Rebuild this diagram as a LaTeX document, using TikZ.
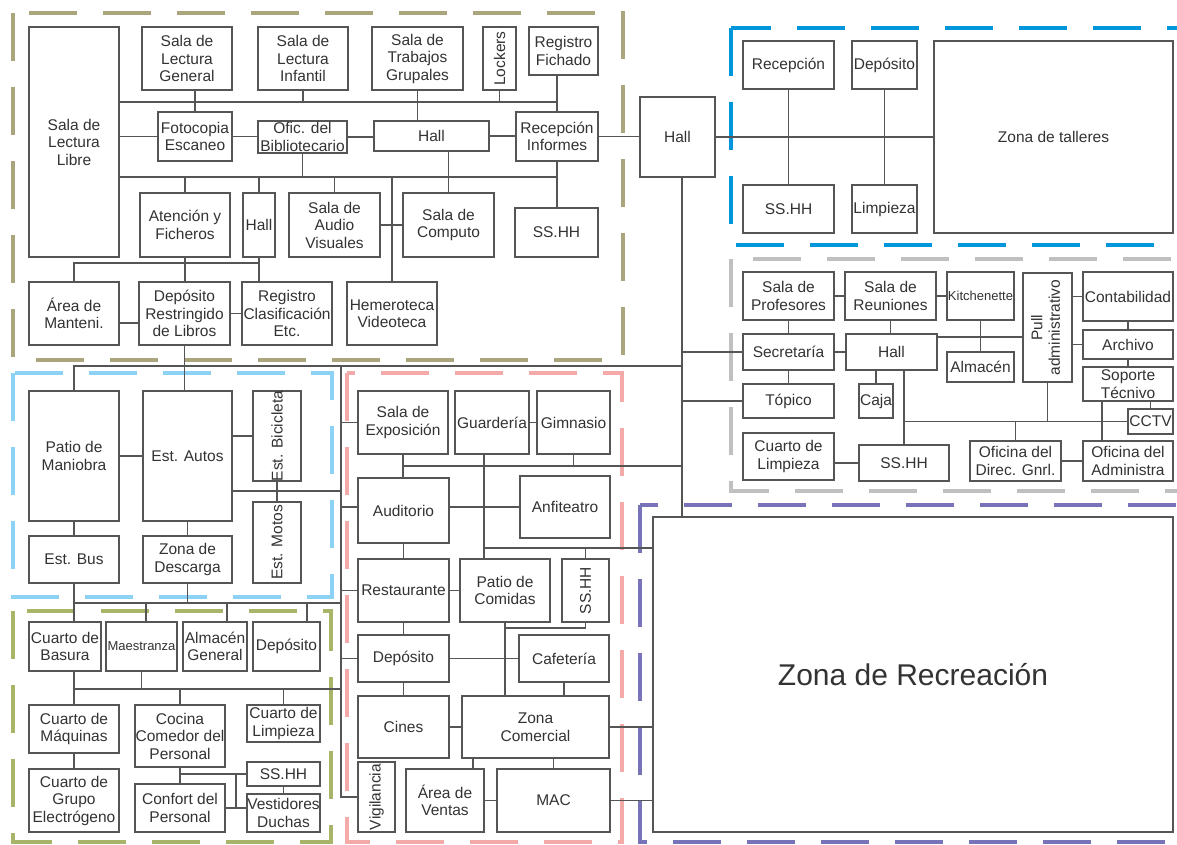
\documentclass[tikz,border=0pt]{standalone}
\usepackage{fontspec}
\setmainfont{Liberation Sans}
\usepackage{graphicx}
\usetikzlibrary{backgrounds}
\definecolor{linea}{HTML}{555555}
\definecolor{texto}{HTML}{333333}
\definecolor{z_bib}{HTML}{AAA57D}
\definecolor{z_tal}{HTML}{0096DC}
\definecolor{z_adm}{HTML}{C0C0C0}
\definecolor{z_rec}{HTML}{7873B9}
\definecolor{z_cen}{HTML}{F5AAAA}
\definecolor{z_par}{HTML}{8CD2F5}
\definecolor{z_ser}{HTML}{A8B46A}
\tikzset{
  sala/.style = {draw=linea, fill=white, line width=1.2pt, align=center,
    inner sep=0pt, text=texto, font=\fontsize{15.5}{17.5}\selectfont},% ambiente
  sala_c/.style = {sala, font=\fontsize{13}{15}\selectfont},% ambiente, texto chico
  medida/.style 2 args = {minimum width=#1pt, minimum height=#2pt},
  zona/.style = {line width=4.5pt, dash pattern=on 48pt off 26pt}% borde de zona
}
\begin{document}
\begin{tikzpicture}[x=1pt, y=-1pt, enlace/.style={draw=linea, line width=1.2pt}]
\useasboundingbox (0,0) rectangle (1177,844);
% biblioteca
\node[sala, medida={90}{230}] (libre) at (74,142) {Sala de\\Lectura\\Libre};
\node[sala, medida={90}{63}] (general) at (187,58.5) {Sala de\\Lectura\\General};
\node[sala, medida={90}{63}] (infantil) at (303,58.5) {Sala de\\Lectura\\Infantil};
\node[sala, medida={91}{63}] (grupales) at (417.5,58.5) {Sala de\\Trabajos\\Grupales};
\node[sala, medida={33}{63}] (lockers) at (499.5,58.5) {\rotatebox{90}{Lockers}};
\node[sala, medida={69}{48}] (fichado) at (563.5,51) {Registro\\Fichado};
\node[sala, medida={74}{49}] (fotocopia) at (195,136.5) {Fotocopia\\Escaneo};
\node[sala, medida={89}{32}] (ofic) at (302.5,137) {Ofic. del\\Bibliotecario};
\node[sala, medida={115}{30}] (hallbib) at (431.5,136) {Hall};
\node[sala, medida={82}{49}] (recepbib) at (557,136.5) {Recepción\\Informes};
\node[sala, medida={90}{64}] (atencion) at (185,225) {Atención y\\Ficheros};
\node[sala, medida={32}{64}] (hallchico) at (259,225) {Hall};
\node[sala, medida={91}{64}] (audio) at (334.5,225) {Sala de\\Audio\\Visuales};
\node[sala, medida={91}{64}] (computo) at (448.5,225) {Sala de\\Computo};
\node[sala, medida={83}{49}] (sshhbib) at (556.5,232.5) {SS.HH};
\node[sala, medida={90}{63}] (manteni) at (74,313.5) {Área de\\Manteni.};
\node[sala, medida={91}{63}] (restringido) at (184.5,313.5) {Depósito\\Restringido\\de Libros};
\node[sala, medida={90}{63}] (clasif) at (287,313.5) {Registro\\Clasificación\\Etc.};
\node[sala, medida={90}{63}] (hemeroteca) at (392,313.5) {Hemeroteca\\Videoteca};
\node[sala, medida={75}{80}] (hall) at (677.5,137) {Hall};
% talleres
\node[sala, medida={91}{48}] (recepcion) at (788.5,65) {Recepción};
\node[sala, medida={91}{48}] (sshht) at (788.5,209) {SS.HH};
\node[sala, medida={65}{48}] (depositot) at (884.5,65) {Depósito};
\node[sala, medida={65}{48}] (limpiezat) at (884.5,209) {Limpieza};
\node[sala, medida={239}{192}] (talleres) at (1053.5,137) {Zona de talleres};
% administracion
\node[sala, medida={91}{48}] (profesores) at (788.5,296) {Sala de\\Profesores};
\node[sala, medida={91}{48}] (reuniones) at (890.5,296) {Sala de\\Reuniones};
\node[sala_c, medida={67}{48}] (kitchen) at (980.5,296) {Kitchenette};
\node[sala, medida={49}{109}] (pull) at (1047.5,327.5)
  {\rotatebox{90}{\begin{tabular}{@{}c@{}}Pull\\administrativo\end{tabular}}};
\node[sala, medida={90}{49}] (contab) at (1128,296.5) {Contabilidad};
\node[sala, medida={90}{29}] (archivo) at (1128,344.5) {Archivo};
\node[sala, medida={90}{34}] (soporte) at (1128,384) {Soporte\\Técnivo};
\node[sala, medida={45}{25}] (cctv) at (1150.5,421.5) {CCTV};
\node[sala, medida={91}{36}] (secretaria) at (788.5,352) {Secretaría};
\node[sala, medida={91}{36}] (halladm) at (891.5,352) {Hall};
\node[sala, medida={67}{30}] (almacen) at (980.5,367) {Almacén};
\node[sala, medida={91}{34}] (topico) at (788.5,401) {Tópico};
\node[sala, medida={34}{34}] (caja) at (876,401) {Caja};
\node[sala, medida={91}{47}] (limpieza) at (788.5,456.5) {Cuarto de\\Limpieza};
\node[sala, medida={90}{36}] (sshhadm) at (904,463) {SS.HH};
\node[sala, medida={91}{40}] (direc) at (1015.5,461) {Oficina del\\Direc. Gnrl.};
\node[sala, medida={90}{40}] (administra) at (1128,461) {Oficina del\\Administra};
% recreacion
\node[sala, medida={520}{315}, font=\fontsize{30}{34}\selectfont] (recreacion) at (913,674.5) {Zona de Recreación};
% centro
\node[sala, medida={90}{63}] (exposicion) at (403,422.5) {Sala de\\Exposición};
\node[sala, medida={74}{63}] (guarderia) at (492,422.5) {Guardería};
\node[sala, medida={73}{63}] (gimnasio) at (573.5,422.5) {Gimnasio};
\node[sala, medida={91}{65}] (auditorio) at (403.5,510.5) {Auditorio};
\node[sala, medida={90}{62}] (anfiteatro) at (565,507) {Anfiteatro};
\node[sala, medida={91}{63}] (restaurante) at (403.5,590.5) {Restaurante};
\node[sala, medida={90}{63}] (patio) at (505,590.5) {Patio de\\Comidas};
\node[sala, medida={47}{63}] (sshhc) at (585.5,590.5) {\rotatebox{90}{SS.HH}};
\node[sala, medida={91}{47}] (depositoc) at (403.5,658.5) {Depósito};
\node[sala, medida={90}{47}] (cafeteria) at (564,658.5) {Cafetería};
\node[sala, medida={91}{62}] (cines) at (403.5,727) {Cines};
\node[sala, medida={147}{62}] (zona) at (535.5,727) {Zona\\Comercial};
\node[sala, medida={37}{70}] (vigilancia) at (376.5,797) {\rotatebox{90}{Vigilancia}};
\node[sala, medida={78}{63}] (areaventas) at (445,800.5) {Área de\\Ventas};
\node[sala, medida={113}{63}] (mac) at (553.5,800.5) {MAC};
% parqueo
\node[sala, medida={90}{130}] (maniobra) at (74,456) {Patio de\\Maniobra};
\node[sala, medida={89}{130}] (autos) at (187.5,456) {Est. Autos};
\node[sala, medida={48}{90}] (bicicleta) at (277,436) {\rotatebox{90}{Est. Bicicleta}};
\node[sala, medida={48}{81}] (motos) at (277,542.5) {\rotatebox{90}{Est. Motos}};
\node[sala, medida={90}{47}] (estbus) at (74,559.5) {Est. Bus};
\node[sala, medida={89}{47}] (descarga) at (187.5,559.5) {Zona de\\Descarga};
% servicio
\node[sala, medida={72}{49}] (basura) at (65,646.5) {Cuarto de\\Basura};
\node[sala_c, medida={71}{49}] (maestranza) at (141.5,646.5) {Maestranza};
\node[sala, medida={64}{49}] (almacengen) at (215,646.5) {Almacén\\General};
\node[sala, medida={67}{49}] (depositos) at (286.5,646.5) {Depósito};
\node[sala, medida={90}{48}] (maquinas) at (74,729) {Cuarto de\\Máquinas};
\node[sala, medida={90}{62}] (cocina) at (180,736) {Cocina\\Comedor del\\Personal};
\node[sala, medida={73}{37}] (limpiezas) at (283.5,723.5) {Cuarto de\\Limpieza};
\node[sala, medida={90}{63}] (grupo) at (74,800.5) {Cuarto de\\Grupo\\Electrógeno};
\node[sala, medida={90}{48}] (confort) at (180,808) {Confort del\\Personal};
\node[sala, medida={73}{24}] (sshhs) at (283.5,774) {SS.HH};
\node[sala, medida={73}{38}] (vestidores) at (283.5,813) {Vestidores\\Duchas};
% puntos de las lineas
\coordinate (bA) at (119,102);
\coordinate (bB) at (119,177);
\coordinate (bC) at (74,263);
\coordinate (bD) at (74,366);
\coordinate (eje) at (682,517);
\coordinate (bE) at (341,366);
\coordinate (bF) at (403,466);
\coordinate (bG) at (484,548);
\coordinate (bH) at (74,603);
\coordinate (bI) at (74,689);
\coordinate (bJ) at (236,774);
\coordinate (bK) at (505,628);
% lineas biblioteca
\draw[enlace] (bA) -- (bA -| recepbib.north);
\draw[enlace] (fotocopia.north) -- (fotocopia.north |- general.south);
\draw[enlace] (infantil.south) -- (infantil.south |- bA);
\draw[enlace] (grupales.south) -- (grupales.south |- hallbib.north);
\draw[enlace] (lockers.south) -- (lockers.south |- bA);
\draw[enlace] (fichado.south -| recepbib.north) -- (recepbib.north);
\draw[enlace] (fotocopia.west) -- (fotocopia.west -| libre.east);
\draw[enlace] (fotocopia.east) -- (fotocopia.east -| ofic.west);
\draw[enlace] (ofic.east) -- (ofic.east -| hallbib.west);
\draw[enlace] (hallbib.east) -- (hallbib.east -| recepbib.west);
\draw[enlace] (recepbib.east) -- (recepbib.east -| hall.west);
\draw[enlace] (bB) -- (bB -| recepbib.south);
\draw[enlace] (recepbib.south) -- (recepbib.south |- sshhbib.north);
\draw[enlace] (ofic.south) -- (ofic.south |- bB);
\draw[enlace] (atencion.north) -- (atencion.north |- bB);
\draw[enlace] (hallchico.north) -- (hallchico.north |- bB);
\draw[enlace] (audio.north) -- (audio.north |- bB);
\draw[enlace] (computo.north) -- (computo.north |- hallbib.south);
\draw[enlace] (hemeroteca.north) -- (hemeroteca.north |- bB);
\draw[enlace] (audio.east) -- (audio.east -| computo.west);
\draw[enlace] (atencion.south) -- (atencion.south |- restringido.north);
\draw[enlace] (hallchico.south) -- (hallchico.south |- clasif.north);
\draw[enlace] (manteni.north) -- (bC) -- (bC -| hallchico.south);
\draw[enlace] ([yshift=-9.5pt]manteni.east) -- ([yshift=-9.5pt]manteni.east -| restringido.west);
\draw[enlace] (restringido.east) -- (restringido.east -| clasif.west);
\draw[enlace] (restringido.south) -- (restringido.south |- autos.north);
\draw[enlace] (maniobra.north) -- (bD) -- (bD -| eje);
\draw[enlace] (hall.south -| eje) -- (eje);
% lineas talleres
\draw[enlace] (hall.east) -- (hall.east -| talleres.west);
\draw[enlace] (recepcion.south) -- (sshht.north);
\draw[enlace] (depositot.south) -- (limpiezat.north);
% lineas administracion
\draw[enlace] (secretaria.west) -- (secretaria.west -| eje);
\draw[enlace] (topico.west) -- (topico.west -| eje);
\draw[enlace] (profesores.east) -- (reuniones.west);
\draw[enlace] (reuniones.east) -- (kitchen.west);
\draw[enlace] (contab.west -| pull.east) -- (contab.west);
\draw[enlace] (profesores.south) -- (secretaria.north);
\draw[enlace] (reuniones.south) -- (reuniones.south |- halladm.north);
\draw[enlace] (secretaria.east) -- (halladm.west);
\draw[enlace] ([yshift=15pt]halladm.east) -- ([yshift=15pt]halladm.east -| pull.west);
\draw[enlace] (kitchen.south) -- (almacen.north);
\draw[enlace] (archivo.west -| pull.east) -- (archivo.west);
\draw[enlace] (contab.south) -- (archivo.north);
\draw[enlace] (archivo.south) -- (soporte.north);
\draw[enlace] (secretaria.south) -- (topico.north);
\draw[enlace] (caja.north) -- (caja.north |- halladm.south);
\draw[enlace] (sshhadm.north) -- (sshhadm.north |- halladm.south);
\draw[enlace] (cctv.west) -- (cctv.west -| sshhadm.north);
\draw[enlace] (pull.south) -- (pull.south |- cctv.west);
\draw[enlace] (direc.north) -- (direc.north |- cctv.west);
\draw[enlace] ([xshift=-26pt]soporte.south) -- ([xshift=-26pt]soporte.south |- administra.north);
\draw[enlace] (cctv.north) -- (cctv.north |- soporte.south);
\draw[enlace] (sshhadm.west) -- (sshhadm.west -| limpieza.east);
\draw[enlace] (direc.east) -- (direc.east -| administra.west);
% lineas parqueo
\draw[enlace] (maniobra.east) -- (autos.west);
\draw[enlace] (bicicleta.west) -- (bicicleta.west -| autos.east);
\draw[enlace] (bicicleta.south) -- (motos.north);
\draw[enlace] ([yshift=-35pt]autos.east) -- ([yshift=-35pt]autos.east -| bE);
\draw[enlace] (maniobra.south) -- (estbus.north);
\draw[enlace] (autos.south) -- (descarga.north);
\draw[enlace] (bE) -- (bE |- vigilancia.west) -- (vigilancia.west);
% lineas servicio
\draw[enlace] (estbus.south) -- (estbus.south |- basura.north);
\draw[enlace] (descarga.south) -- (descarga.south |- bH);
\draw[enlace] (bH) -- (bH -| bE);
\draw[enlace] ([xshift=4.5pt]maestranza.north) -- ([xshift=4.5pt]maestranza.north |- bH);
\draw[enlace] ([xshift=12pt]almacengen.north) -- ([xshift=12pt]almacengen.north |- bH);
\draw[enlace] ([xshift=20.5pt]depositos.north) -- ([xshift=20.5pt]depositos.north |- bH);
\draw[enlace] (bI |- basura.south) -- (bI |- maquinas.north);
\draw[enlace] (bI) -- (bI -| bE);
\draw[enlace] (maestranza.south) -- (maestranza.south |- bI);
\draw[enlace] (cocina.north) -- (cocina.north |- bI);
\draw[enlace] (limpiezas.north) -- (limpiezas.north |- bI);
\draw[enlace] (maquinas.south) -- (grupo.north);
\draw[enlace] (cocina.south) -- (confort.north);
\draw[enlace] (sshhs.west) -- (sshhs.west -| cocina.south);
\draw[enlace] (bJ) -- (bJ |- confort.east);
\draw[enlace] (confort.east) -- (confort.east -| vestidores.west);
\draw[enlace] (sshhs.south) -- (vestidores.north);
% lineas centro
\draw[enlace] (exposicion.west) -- (exposicion.west -| bE);
\draw[enlace] (guarderia.east) -- (gimnasio.west);
\draw[enlace] (bF) -- (bF -| eje);
\draw[enlace] (gimnasio.south) -- (gimnasio.south |- bF);
\draw[enlace] (exposicion.south) -- (exposicion.south |- auditorio.north);
\draw[enlace] (guarderia.south -| bG) -- (patio.north -| bG);
\draw[enlace] (bG) -- (bG -| recreacion.west);
\draw[enlace] (sshhc.north) -- (sshhc.north |- bG);
\draw[enlace] (anfiteatro.west -| bE) -- (anfiteatro.west -| auditorio.west);
\draw[enlace] (anfiteatro.west -| auditorio.east) -- (anfiteatro.west);
\draw[enlace] (restaurante.west) -- (restaurante.west -| bE);
\draw[enlace] (restaurante.east) -- (patio.west);
\draw[enlace] (auditorio.south) -- (restaurante.north);
\draw[enlace] (restaurante.south) -- (depositoc.north);
\draw[enlace] (patio.south) -- (patio.south |- zona.north);
\draw[enlace] (sshhc.south) |- (bK);
\draw[enlace] (depositoc.west) -- (depositoc.west -| bE);
\draw[enlace] (depositoc.east) -- (cafeteria.west);
\draw[enlace] (depositoc.south) -- (cines.north);
\draw[enlace] (cafeteria.south) -- (cafeteria.south |- zona.north);
\draw[enlace] (cines.east) -- (zona.west);
\draw[enlace] (zona.east) -- (zona.east -| recreacion.west);
\draw[enlace] ([xshift=28pt]areaventas.north) -- ([xshift=28pt]areaventas.north |- zona.south);
\draw[enlace] (mac.north) -- (mac.north |- zona.south);
\draw[enlace] (areaventas.east) -- (mac.west);
\draw[enlace] (mac.east) -- (mac.east -| recreacion.west);
% zonas
\begin{scope}[on background layer]
\draw[zona, z_bib] (13,13) rectangle (623,360);
\draw[zona, z_tal] (731,28) rectangle (1200,245);
\draw[zona, z_adm] (731,259) rectangle (1200,491);
\draw[zona, z_rec] (640,505) rectangle (1200,842);
\draw[zona, z_cen] (347,373) rectangle (622,842);
\draw[zona, z_par] (13,373) rectangle (332,597);
\draw[zona, z_ser] (13,611) rectangle (331,842);
\end{scope}
\end{tikzpicture}
\end{document}
